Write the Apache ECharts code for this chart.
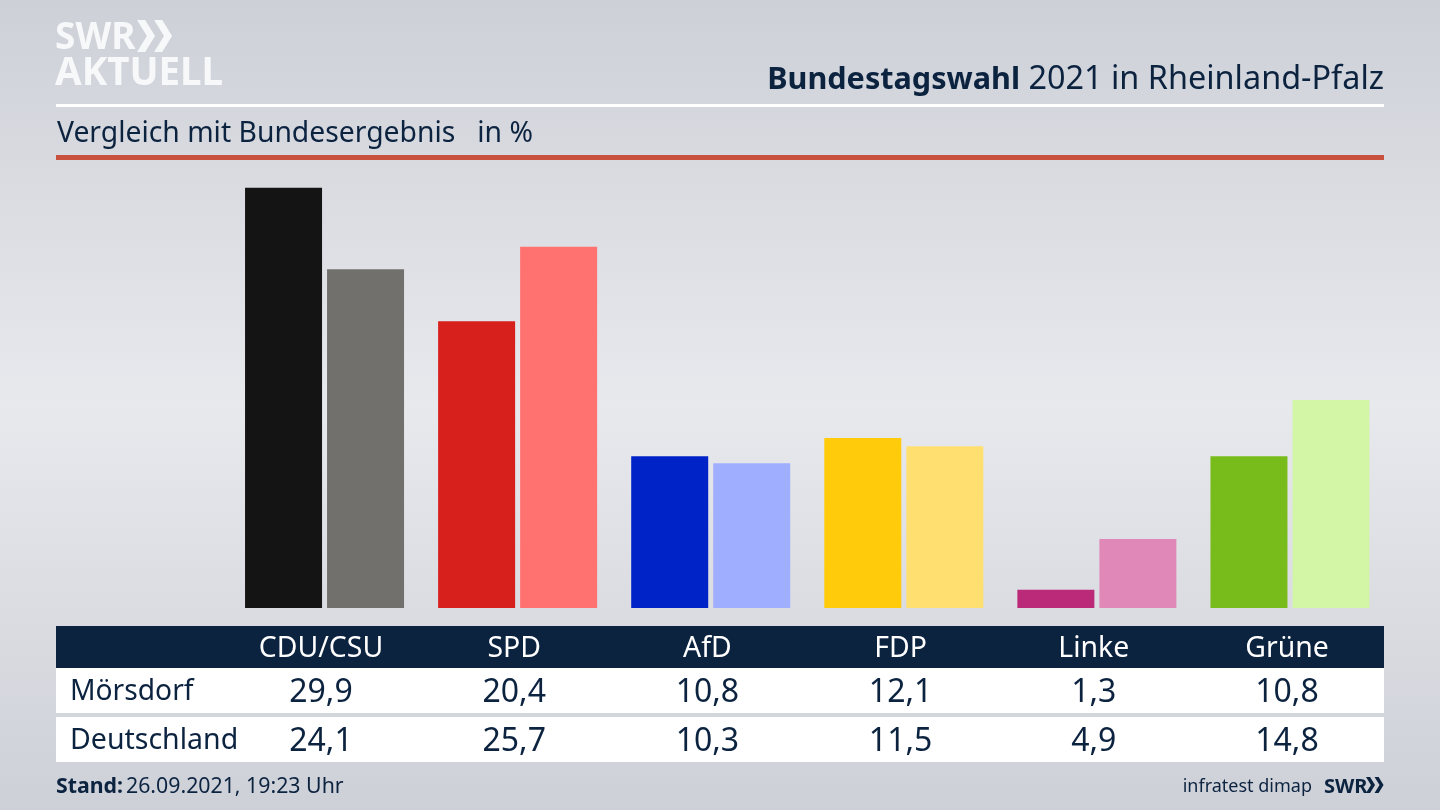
<!DOCTYPE html>
<html lang="de">
<head>
<meta charset="UTF-8">
<title>Bundestagswahl 2021 in Rheinland-Pfalz</title>
<script src="https://cdn.jsdelivr.net/npm/echarts@6/dist/echarts.min.js"></script>
<style>
  html, body { margin: 0; padding: 0; background: #dcdee3; }
  #main { width: 1440px; height: 810px; }
</style>
</head>
<body>
<div id="main"></div>
<script>
var parties = ['CDU/CSU', 'SPD', 'AfD', 'FDP', 'Linke', 'Grüne'];
var localName = 'Mörsdorf';
var nationalName = 'Deutschland';
var localValues = [29.9, 20.4, 10.8, 12.1, 1.3, 10.8];
var nationalValues = [24.1, 25.7, 10.3, 11.5, 4.9, 14.8];
var localColors = ['#141414', '#d71f1c', '#0023c8', '#ffcb0a', '#bb2a78', '#78bc1c'];
var nationalColors = ['#72706d', '#ff726f', '#a0aeff', '#ffdf70', '#e088b8', '#d2f5a6'];

var navy = '#0c2340';
var font = '"Noto Sans", sans-serif';

function fmt(v) {
    return v.toFixed(1).replace('.', ',');
}

function label(x, y, text, size, align, opts) {
    opts = opts || {};
    return {
        type: 'text',
        x: x,
        y: y,
        style: {
            text: text,
            fontFamily: opts.font || font,
            fontSize: size,
            fontWeight: opts.weight || 'normal',
            fill: opts.fill || navy,
            align: align,
            verticalAlign: 'middle'
        }
    };
}

function box(x, y, w, h, fill) {
    return { type: 'rect', shape: { x: x, y: y, width: w, height: h }, style: { fill: fill } };
}

function chevrons(x, y, h, w, fill) {
    // SWR logo double arrow
    var out = [];
    [0, w * 0.95].forEach(function (dx) {
        var t = w * 0.45;
        out.push({
            type: 'polygon',
            shape: {
                points: [
                    [x + dx, y], [x + dx + t, y], [x + dx + w, y + h / 2],
                    [x + dx + t, y + h], [x + dx, y + h], [x + dx + w - t, y + h / 2]
                ]
            },
            style: { fill: fill }
        });
    });
    return out;
}

var shapes = [
    box(56, 104, 1328, 3, '#ffffff'),
    box(56, 155, 1328, 5, '#c8503c'),
    box(56, 626, 1328, 42, navy),
    box(56, 668, 1328, 45, '#ffffff'),
    box(56, 717, 1328, 45, '#ffffff'),
    label(55, 38, 'SWR', 37, 'left', { weight: 'bold', fill: '#f7f8f9' }),
    label(55, 74, 'AKTUELL', 38.5, 'left', { weight: 'bold', fill: '#f7f8f9' }),
    label(57, 134, 'Vergleich mit Bundesergebnis   in %', 28.3, 'left'),
    label(70, 692, localName, 28.2, 'left'),
    label(70, 741, nationalName, 28.5, 'left'),
    label(56, 787, 'Stand:', 21.3, 'left', { weight: 'bold' }),
    label(126, 787, '26.09.2021, 19:23 Uhr', 21.3, 'left'),
    label(1312, 787, 'infratest dimap', 18, 'right'),
    label(1324, 787, 'SWR', 20, 'left', { weight: 'bold' })
];

// title has a bold and a regular part, anchored from the right
shapes.push({
    type: 'text',
    x: 1384,
    y: 80,
    style: {
        text: '{b|Bundestagswahl} 2021 in Rheinland-Pfalz',
        align: 'right',
        verticalAlign: 'middle',
        fontFamily: font,
        fontSize: 32.4,
        fill: navy,
        rich: {
            b: { fontFamily: font, fontSize: 30.6, fontWeight: 'bold', fill: navy }
        }
    }
});

parties.forEach(function (name, i) {
    var cx = 321 + i * 193.2;
    shapes.push(label(cx, 649, name, 28.4, 'center', { fill: '#ffffff' }));
    shapes.push(label(cx, 693, fmt(localValues[i]), 32, 'center'));
    shapes.push(label(cx, 742, fmt(nationalValues[i]), 32, 'center'));
});

shapes = shapes.concat(chevrons(137, 20, 32, 18, '#f7f8f9'));
shapes = shapes.concat(chevrons(1366, 777, 16, 9, navy));

function coloured(values, colors) {
    return values.map(function (v, i) {
        return { value: v, itemStyle: { color: colors[i] } };
    });
}

var chart = echarts.init(document.getElementById('main'));
chart.setOption({
    animation: false,
    backgroundColor: {
        type: 'linear', x: 0, y: 0, x2: 0, y2: 1,
        colorStops: [
            { offset: 0, color: '#cdd0d7' },
            { offset: 0.5, color: '#e8e9ed' },
            { offset: 1, color: '#cdd0d7' }
        ]
    },
    grid: { left: 228, right: 53.5, top: 187, bottom: 202 },
    xAxis: {
        type: 'category',
        data: parties,
        axisLine: { show: false },
        axisTick: { show: false },
        axisLabel: { show: false }
    },
    yAxis: {
        type: 'value',
        min: 0,
        max: 29.95,
        show: false,
        splitLine: { show: false }
    },
    series: [
        { name: localName, type: 'bar', barWidth: 77, barGap: '6.5%', data: coloured(localValues, localColors) },
        { name: nationalName, type: 'bar', barWidth: 77, barGap: '6.5%', data: coloured(nationalValues, nationalColors) }
    ],
    graphic: { elements: shapes }
});
</script>
</body>
</html>
